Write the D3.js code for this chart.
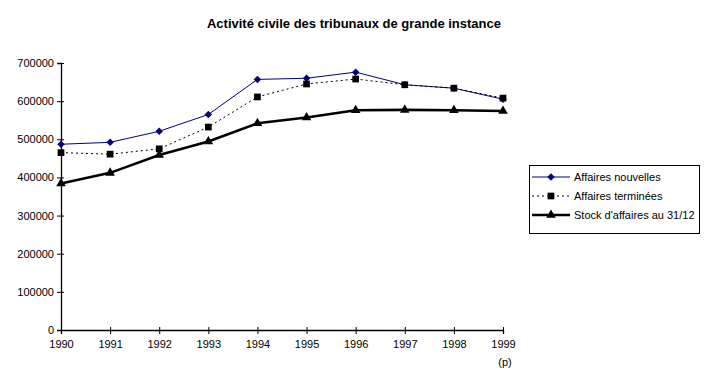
<!DOCTYPE html>
<html>
<head>
<meta charset="utf-8">
<script src="https://cdn.jsdelivr.net/npm/d3@7"></script>
<style>
body { margin: 0; background: #fff; }
text { font-family: Arial, "Liberation Sans", sans-serif; }
</style>
</head>
<body>
<script>
const years = ['1990','1991','1992','1993','1994','1995','1996','1997','1998','1999'];
const nouvelles = [487000, 492000, 521000, 565000, 657000, 660000, 676000, 643000, 634000, 605000];
const terminees = [465000, 461000, 475000, 532000, 611000, 645000, 658000, 643000, 634000, 608000];
const stock = [384000, 412000, 459000, 494000, 542000, 557000, 576000, 577000, 576000, 574000];
const yTicks = [0, 100000, 200000, 300000, 400000, 500000, 600000, 700000];

const width = 709, height = 387;
const svg = d3.select('body').append('svg').attr('width', width).attr('height', height);

const x = d3.scalePoint().domain(years).range([61, 503]);
const y = d3.scaleLinear().domain([0, 700000]).range([330, 63]);

svg.append('text')
  .attr('x', 354).attr('y', 28)
  .attr('text-anchor', 'middle')
  .style('font-size', '13px').style('font-weight', 'bold')
  .text('Activité civile des tribunaux de grande instance');

// axes
const yAxis = svg.append('g').attr('transform', 'translate(61,0)')
  .call(d3.axisLeft(y).tickValues(yTicks).tickSize(4).tickPadding(3).tickFormat(d3.format('d')));
const xAxis = svg.append('g').attr('transform', 'translate(0,330)')
  .call(d3.axisBottom(x).tickSize(4).tickPadding(6));

[yAxis, xAxis].forEach(g => {
  g.select('.domain').attr('stroke', '#000').attr('stroke-width', 1.3);
  g.selectAll('.tick line').attr('stroke', '#000');
  g.selectAll('text').style('font-size', '11px').attr('fill', '#000');
});
yAxis.selectAll('.tick line').attr('x1', 3);
xAxis.selectAll('.tick line').attr('y1', -3);

svg.append('text')
  .attr('x', x('1999') + 2).attr('y', 366)
  .attr('text-anchor', 'middle')
  .style('font-size', '11px')
  .text('(p)');

const line = d3.line().x((d, i) => x(years[i])).y(d => y(d));

const series = [
  { name: 'Affaires nouvelles', values: nouvelles, color: '#000080', width: 1, dash: null, sym: d3.symbolDiamond2, size: 36 },
  { name: 'Affaires terminées', values: terminees, color: '#000', width: 1, dash: '2,3', sym: d3.symbolSquare, size: 45 },
  { name: "Stock d'affaires au 31/12", values: stock, color: '#000', width: 2.6, dash: null, sym: d3.symbolTriangle, size: 40 }
];

series.forEach(s => {
  svg.append('path')
    .attr('d', line(s.values))
    .attr('fill', 'none')
    .attr('stroke', s.color)
    .attr('stroke-width', s.width)
    .attr('stroke-dasharray', s.dash);
  svg.selectAll(null)
    .data(s.values)
    .enter()
    .append('path')
    .attr('d', d3.symbol().type(s.sym).size(s.size))
    .attr('transform', (d, i) => 'translate(' + x(years[i]) + ',' + y(d) + ')')
    .attr('fill', s.color);
});

// legend
const lg = svg.append('g');
lg.append('rect')
  .attr('x', 529.5).attr('y', 165.5).attr('width', 170).attr('height', 68)
  .attr('fill', '#fff').attr('stroke', '#000');
series.forEach((s, i) => {
  const ly = 177 + i * 19;
  lg.append('line')
    .attr('x1', 532).attr('x2', 570).attr('y1', ly).attr('y2', ly)
    .attr('stroke', s.color).attr('stroke-width', s.width).attr('stroke-dasharray', s.dash);
  lg.append('path')
    .attr('d', d3.symbol().type(s.sym).size(s.size))
    .attr('transform', 'translate(551,' + ly + ')')
    .attr('fill', s.color);
  lg.append('text')
    .attr('x', 574).attr('y', ly + 4)
    .style('font-size', '11px')
    .text(s.name);
});
</script>
</body>
</html>
